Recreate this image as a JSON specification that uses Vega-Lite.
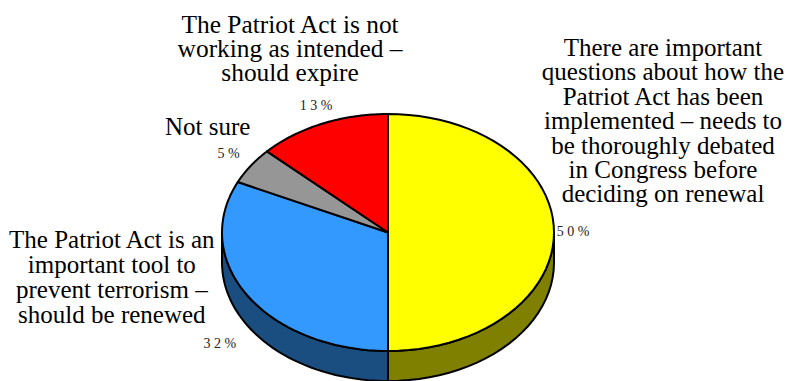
{
  "$schema": "https://vega.github.io/schema/vega-lite/v6.json",
  "width": 790,
  "height": 381,
  "padding": 0,
  "autosize": "none",
  "background": "white",
  "config": {"view": {"stroke": null}},
  "data": {
    "values": [
      {"answer": "Debate", "share": 50, "shown": "5 0 %", "label": "There are important\nquestions about how the\nPatriot Act has been\nimplemented – needs to\nbe thoroughly debated\nin Congress before\ndeciding on renewal"},
      {"answer": "Renew", "share": 32, "shown": "3 2 %", "label": "The Patriot Act is an\nimportant tool to\nprevent terrorism –\nshould be renewed"},
      {"answer": "Not sure", "share": 5, "shown": "5 %", "label": "Not sure"},
      {"answer": "Expire", "share": 13, "shown": "1 3 %", "label": "The Patriot Act is not\nworking as intended –\nshould expire"}
    ]
  },
  "transform": [
    {"window": [{"op": "sum", "field": "share", "as": "running"}]},
    {"calculate": "[-1,0,0.02,0.04,0.06,0.08,0.1,0.12,0.14,0.16,0.18,0.2,0.22,0.24,0.26,0.28,0.3,0.32,0.34,0.36,0.38,0.4,0.42,0.44,0.46,0.48,0.5,0.52,0.54,0.56,0.58,0.6,0.62,0.64,0.66,0.68,0.7,0.72,0.74,0.76,0.78,0.8,0.82,0.84,0.86,0.88,0.9,0.92,0.94,0.96,0.98,1,2]", "as": "step"},
    {"flatten": ["step"]},
    {"calculate": "(datum.running - datum.share + datum.step * datum.share) * 3.6", "as": "angle"},
    {"calculate": "datum.step >= 0 && datum.step <= 1 ? 1 : 0", "as": "rim"},
    {"calculate": "datum.rim * sin(datum.angle * PI / 180)", "as": "px"},
    {"calculate": "datum.rim * cos(datum.angle * PI / 180)", "as": "py"},
    {"calculate": "datum.py - 0.2532", "as": "pyLow"}
  ],
  "encoding": {
    "x": {"field": "px", "type": "quantitative", "axis": null, "scale": {"domain": [-2.3373, 2.4217], "nice": false, "zero": false}},
    "y": {"field": "py", "type": "quantitative", "axis": null, "scale": {"domain": [-1.2532, 1.962], "nice": false, "zero": false}}
  },
  "layer": [
    {
      "transform": [{"filter": "datum.answer === 'Debate' && datum.rim === 1 && datum.angle >= 90 && datum.angle <= 180"}],
      "mark": {"type": "area", "orient": "vertical", "fill": "#808000", "stroke": "black", "strokeWidth": 2},
      "encoding": {
        "y": {"field": "pyLow", "type": "quantitative", "stack": null},
        "y2": {"field": "py"}
      }
    },
    {
      "transform": [{"filter": "datum.answer === 'Renew' && datum.rim === 1 && datum.angle >= 180 && datum.angle <= 270"}],
      "mark": {"type": "area", "orient": "vertical", "fill": "#1a4d80", "stroke": "black", "strokeWidth": 2},
      "encoding": {
        "y": {"field": "pyLow", "type": "quantitative", "stack": null},
        "y2": {"field": "py"}
      }
    },
    {
      "mark": {"type": "line", "stroke": "black", "strokeWidth": 2, "strokeJoin": "round"},
      "encoding": {
        "fill": {"field": "answer", "type": "nominal", "legend": null, "scale": {"domain": ["Debate", "Renew", "Not sure", "Expire"], "range": ["#ffff00", "#3399ff", "#969696", "#ff0000"]}},
        "detail": {"field": "answer"},
        "order": {"field": "step", "type": "quantitative"}
      }
    },
    {
      "transform": [{"filter": "datum.step === 0.5 && datum.answer === 'Debate'"}],
      "layer": [
        {"mark": {"type": "text", "font": "Liberation Serif", "fontSize": 14, "fill": "#222", "dx": 19, "dy": 0}, "encoding": {"text": {"field": "shown"}}},
        {"mark": {"type": "text", "font": "Liberation Serif", "fontSize": 25, "fill": "black", "lineBreak": "\n", "lineHeight": 24.4, "dx": 109, "dy": -184.5}, "encoding": {"text": {"field": "label"}}}
      ]
    },
    {
      "transform": [{"filter": "datum.step === 0.5 && datum.answer === 'Renew'"}],
      "layer": [
        {"mark": {"type": "text", "font": "Liberation Serif", "fontSize": 14, "fill": "#222", "dx": -28, "dy": 48}, "encoding": {"text": {"field": "shown"}}},
        {"mark": {"type": "text", "font": "Liberation Serif", "fontSize": 25, "fill": "black", "lineBreak": "\n", "lineHeight": 25, "dx": -136, "dy": -56}, "encoding": {"text": {"field": "label"}}}
      ]
    },
    {
      "transform": [{"filter": "datum.step === 0.5 && datum.answer === 'Not sure'"}],
      "layer": [
        {"mark": {"type": "text", "font": "Liberation Serif", "fontSize": 14, "fill": "#222", "dx": -22, "dy": -12}, "encoding": {"text": {"field": "shown"}}},
        {"mark": {"type": "text", "font": "Liberation Serif", "fontSize": 25, "fill": "black", "dx": -43, "dy": -39}, "encoding": {"text": {"field": "label"}}}
      ]
    },
    {
      "transform": [{"filter": "datum.step === 0.5 && datum.answer === 'Expire'"}],
      "layer": [
        {"mark": {"type": "text", "font": "Liberation Serif", "fontSize": 14, "fill": "#222", "dx": -6, "dy": -18}, "encoding": {"text": {"field": "shown"}}},
        {"mark": {"type": "text", "font": "Liberation Serif", "fontSize": 25.4, "fill": "black", "lineBreak": "\n", "lineHeight": 24, "dx": -32, "dy": -98.7}, "encoding": {"text": {"field": "label"}}}
      ]
    }
  ]
}
